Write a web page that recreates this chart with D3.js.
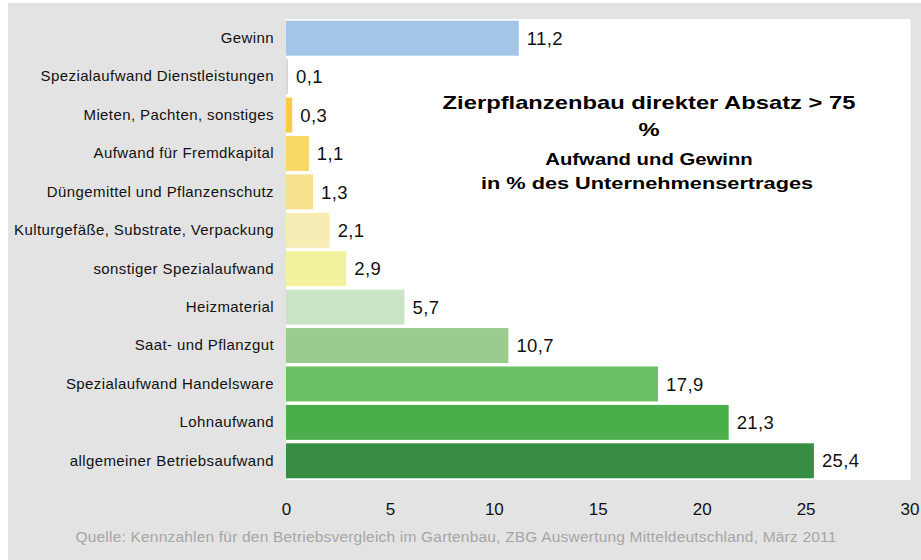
<!DOCTYPE html>
<html>
<head>
<meta charset="utf-8">
<script src="https://cdn.jsdelivr.net/npm/d3@7"></script>
<style>
  body { margin: 0; background: #fff; }
  svg { display: block; font-family: "Liberation Sans", Arial, sans-serif; }
</style>
</head>
<body>
<div id="chart"></div>
<script>
// data, top to bottom as in the picture
const categories = [
    "Gewinn",
    "Spezialaufwand Dienstleistungen",
    "Mieten, Pachten, sonstiges",
    "Aufwand für Fremdkapital",
    "Düngemittel und Pflanzenschutz",
    "Kulturgefäße, Substrate, Verpackung",
    "sonstiger Spezialaufwand",
    "Heizmaterial",
    "Saat- und Pflanzgut",
    "Spezialaufwand Handelsware",
    "Lohnaufwand",
    "allgemeiner Betriebsaufwand"
];
const values = [11.2, 0.1, 0.3, 1.1, 1.3, 2.1, 2.9, 5.7, 10.7, 17.9, 21.3, 25.4];
const barColors = ["#a3c5e7", "#d9d9d9", "#f6cd45", "#f7d766", "#f6e08e", "#f8ecb5",
    "#f3f29f", "#c9e5c6", "#98cd8d", "#6bc063", "#4aaf4a", "#368d43"];
const xTicks = [0, 5, 10, 15, 20, 25, 30];
const titleLines = ["Zierpflanzenbau direkter Absatz > 75", "%"];
const subLines = ["Aufwand und Gewinn", "in % des Unternehmensertrages"];
const source = "Quelle: Kennzahlen für den Betriebsvergleich im Gartenbau, ZBG Auswertung Mitteldeutschland, März 2011";

const W = 921, H = 560;
const plot = { left: 286, right: 910.5, top: 19, bottom: 480 };

const svg = d3.select("#chart")
    .append("svg")
    .attr("width", W)
    .attr("height", H);

// grey frame + white plot area
svg.append("rect")
    .attr("x", 8).attr("y", 3)
    .attr("width", W - 8).attr("height", H - 3)
    .attr("fill", "#e3e3e3");
svg.append("rect")
    .attr("x", plot.left).attr("y", plot.top)
    .attr("width", plot.right - plot.left).attr("height", plot.bottom - plot.top)
    .attr("fill", "#fff");

const x = d3.scaleLinear()
    .domain([0, 30])
    .range([plot.left, plot.right - 1]);

const y = d3.scaleBand()
    .domain(categories)
    .range([plot.top, plot.bottom])
    .paddingInner(0.09)
    .paddingOuter(0.045);

const data = categories.map((c, i) => ({ cat: c, val: values[i], color: barColors[i] }));

// bars
svg.append("g")
    .selectAll("rect")
    .data(data)
    .join("rect")
    .attr("x", x(0))
    .attr("y", d => y(d.cat))
    .attr("width", d => Math.max(x(d.val) - x(0), 2))
    .attr("height", y.bandwidth())
    .attr("fill", d => d.color);

// value labels
const fmt = v => d3.format(".1f")(v).replace(".", ",");
svg.append("g")
    .selectAll("text")
    .data(data)
    .join("text")
    .attr("x", d => Math.max(x(d.val), x(0) + 2) + 8)
    .attr("y", d => y(d.cat) + y.bandwidth() / 2)
    .attr("dy", "0.36em")
    .attr("font-size", 18.5)
    .attr("letter-spacing", "0.4px")
    .attr("fill", "#111")
    .text(d => fmt(d.val));

// category axis (labels only)
const yAxis = svg.append("g")
    .attr("transform", "translate(" + plot.left + ",0)")
    .call(d3.axisLeft(y).tickSize(0).tickPadding(12));
yAxis.select(".domain").remove();
yAxis.selectAll("text")
    .attr("font-size", 15)
    .attr("letter-spacing", "0.4px")
    .attr("font-family", "Liberation Sans, Arial, sans-serif")
    .attr("fill", "#111");

// value axis (labels only)
const xAxis = svg.append("g")
    .attr("transform", "translate(0," + plot.bottom + ")")
    .call(d3.axisBottom(x).tickValues(xTicks).tickSize(0).tickPadding(23));
xAxis.select(".domain").remove();
xAxis.selectAll("text")
    .attr("font-size", 17)
    .attr("font-family", "Liberation Sans, Arial, sans-serif")
    .attr("fill", "#111");

// title block (text in the original is drawn wide, so stretch it horizontally)
const cx = 649;
const titleY = [108.5, 136];
const subY = [164.5, 188.5];
const subStretch = [1.27, 1.36];
svg.append("g")
    .selectAll("text")
    .data(titleLines)
    .join("text")
    .attr("transform", (d, i) => "translate(" + cx + "," + titleY[i] + ") scale(1.25,1)")
    .attr("text-anchor", "middle")
    .attr("font-size", 19)
    .attr("font-weight", "bold")
    .attr("fill", "#000")
    .text(d => d);

svg.append("g")
    .selectAll("text")
    .data(subLines)
    .join("text")
    .attr("transform", (d, i) => "translate(" + (cx - i * 2) + "," + subY[i] + ") scale(" + subStretch[i] + ",1)")
    .attr("text-anchor", "middle")
    .attr("font-size", 16)
    .attr("font-weight", "bold")
    .attr("fill", "#000")
    .text(d => d);

// source note
svg.append("text")
    .attr("x", 456)
    .attr("y", 542)
    .attr("text-anchor", "middle")
    .attr("font-size", 15.5)
    .attr("letter-spacing", "0.2px")
    .attr("fill", "#a6a6a6")
    .text(source);
</script>
</body>
</html>
